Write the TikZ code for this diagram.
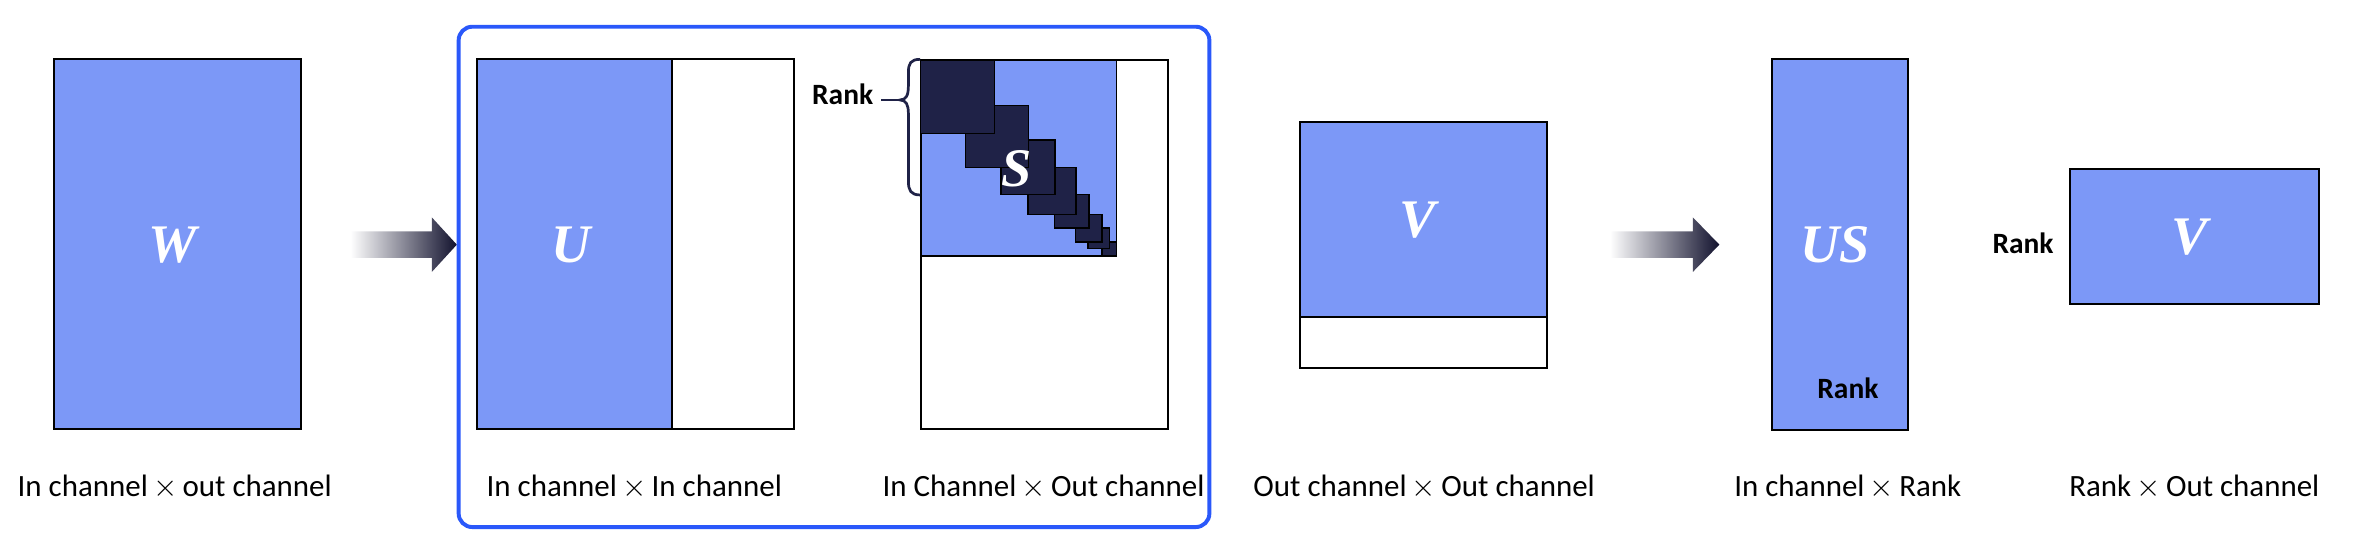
\documentclass[tikz,border=0pt]{standalone}
\usepackage{fontspec}
\setmainfont{Carlito}
\newfontfamily\letterfont{Liberation Serif}
\usetikzlibrary{shadings}
\definecolor{boxblue}{RGB}{124,152,247}
\definecolor{navy}{RGB}{31,34,71}
\definecolor{frameblue}{RGB}{42,88,250}
\definecolor{arrowdark}{RGB}{18,18,46}
\newcommand{\mx}{\,$\times$\,}
\tikzset{
  mat/.style={draw=black, line width=1.3pt},
  sq/.style={fill=navy, draw=black, line width=0.9pt},
  letter/.style={text=white, inner sep=0pt, font=\letterfont\bfseries\itshape\fontsize{36}{36}\selectfont},
  captext/.style={anchor=base, inner sep=0pt, font=\fontsize{20.5}{20.5}\selectfont},
  ranktext/.style={inner sep=0pt, font=\bfseries\fontsize{19.5}{19.5}\selectfont},
  fatarrow/.style={left color=white, right color=arrowdark}
}
\begin{document}
\begin{tikzpicture}[x=1pt,y=-1pt]
\useasboundingbox (0,0) rectangle (1568,368.2);

% W
\draw[mat, fill=boxblue] (36,39) rectangle (199,284);
\node[letter] (W) at (114.3,162.4) {W};
\node[captext] (capW) at (115.7,328.5) {In channel\mx out channel};

% arrow 1
\shade[fatarrow] (232,153.2) -- (286,153.2) -- (286,144) -- (302.5,162) -- (286,180) -- (286,170.8) -- (232,170.8) -- cycle;

% frame
\draw[frameblue, line width=2.6pt, rounded corners=9pt] (303.7,17.7) rectangle (800.8,349);

% U
\fill[boxblue] (316,39) rectangle (445,284);
\draw[mat] (316,39) rectangle (526,284);
\draw[mat] (445,39) -- (445,284);
\node[letter] (U) at (378,162.4) {U};
\node[captext] (capU) at (420,328.5) {In channel\mx In channel};

% S
\draw[mat] (609.7,39.7) rectangle (773.2,284);
\draw[mat, fill=boxblue] (609.7,39.7) rectangle (739.3,169.3);
\draw[sq] (729.6,160.3) rectangle (739.1,169.3);
\draw[sq] (720.5,151) rectangle (734.6,164.7);
\draw[sq] (712.1,141.9) rectangle (729.6,160.3);
\draw[sq] (698.2,128.9) rectangle (721,151);
\draw[sq] (680.8,110.8) rectangle (712.4,142.2);
\draw[sq] (662.7,92.7) rectangle (698.5,128.9);
\draw[sq] (639.5,70) rectangle (681,111);
\draw[sq] (609.7,39.7) rectangle (658.5,88.5);
\node[letter] (S) at (673.3,112) {S};
\draw[navy, line width=1.8pt] (609.3,39.3) .. controls (603,39.3) and (601.5,42) .. (601.5,48) -- (601.5,57) .. controls (601.5,63) and (600,66.2) .. (596,66.2) .. controls (600,66.2) and (601.5,69.5) .. (601.5,75) -- (601.5,120) .. controls (601.5,126) and (603,129.1) .. (609.3,129.1);
\draw[navy, line width=1.8pt] (583.4,66.2) -- (596,66.2);
\node[ranktext, anchor=base east] (rankS) at (578.4,69.5) {Rank};
\node[captext] (capS) at (691,328.5) {In Channel\mx Out channel};

% V
\fill[boxblue] (861,80.6) rectangle (1024.3,209.7);
\draw[mat] (861,80.6) rectangle (1024.3,243.5);
\draw[mat] (861,209.7) -- (1024.3,209.7);
\node[letter] (V) at (938.6,146) {V};
\node[captext] (capV) at (943,328.5) {Out channel\mx Out channel};

% arrow 2
\shade[fatarrow] (1066,153.2) -- (1121,153.2) -- (1121,144) -- (1138.5,162) -- (1121,180) -- (1121,170.8) -- (1066,170.8) -- cycle;

% US
\draw[mat, fill=boxblue] (1173.4,39.3) rectangle (1263.6,284.8);
\node[letter] (US) at (1215,162) {US};
\node[ranktext, anchor=base] (rankUS) at (1223.6,263.8) {Rank};
\node[captext] (capUS) at (1223.5,328.5) {In channel\mx Rank};

% V2
\draw[mat, fill=boxblue] (1370.8,112) rectangle (1535.6,201.4);
\node[letter] (V2) at (1450,157.3) {V};
\node[ranktext, anchor=base east] (rankV) at (1360,167.7) {Rank};
\node[captext] (capV2) at (1453,328.5) {Rank\mx Out channel};
\end{tikzpicture}
\end{document}
